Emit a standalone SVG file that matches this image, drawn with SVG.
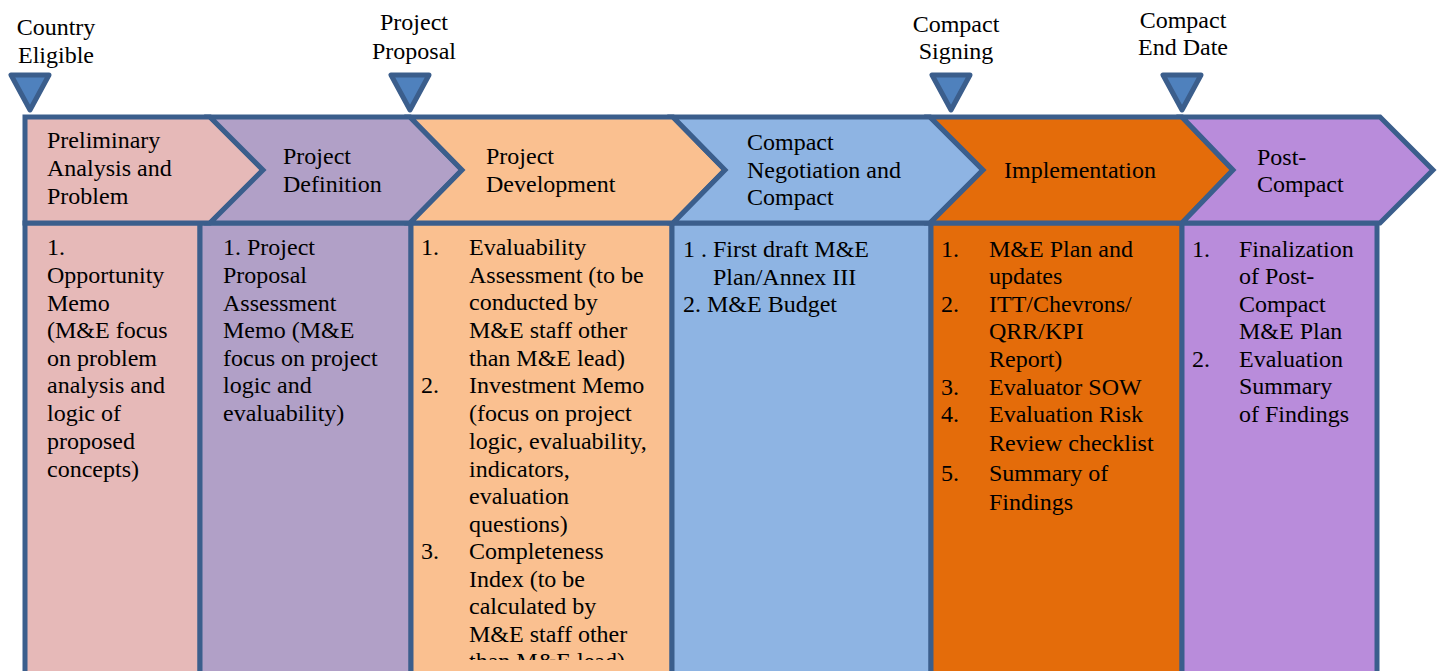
<svg xmlns="http://www.w3.org/2000/svg" width="1441" height="671" viewBox="0 0 1441 671" font-family="'Liberation Serif', Tinos, 'Times New Roman', 'DejaVu Serif', serif">
<style>
text{font-family:"Liberation Serif",Tinos,"Times New Roman","DejaVu Serif",serif;font-size:24px;fill:#000}
.ol{stroke:#3b5e8c;stroke-width:5;stroke-linejoin:miter}
.tri{fill:#4f81bd;stroke:#3b5e8c;stroke-width:5;stroke-linejoin:round}
.mid{text-anchor:middle}
.c1{fill:#e6b9b8}.c2{fill:#b1a0c7}.c3{fill:#fac090}.c4{fill:#8eb4e3}.c5{fill:#e46c0a}.c6{fill:#b98cdb}
</style>
<defs>
<clipPath id="clip3"><rect x="411" y="223" width="261" height="437"/></clipPath>
</defs>
<rect width="1441" height="671" fill="#fff"/>

<g id="milestones">
<g id="m-country">
<polygon class="tri" points="11,75 49,75 30,110"/>
<text class="mid" x="56" y="35">Country</text>
<text class="mid" x="56" y="63">Eligible</text>
</g>
<g id="m-proposal">
<polygon class="tri" points="391,75 429,75 410,110"/>
<text class="mid" x="414" y="30">Project</text>
<text class="mid" x="414" y="59">Proposal</text>
</g>
<g id="m-signing">
<polygon class="tri" points="932,75 970,75 951,110"/>
<text class="mid" x="956" y="32">Compact</text>
<text class="mid" x="956" y="59">Signing</text>
</g>
<g id="m-end">
<polygon class="tri" points="1163,75 1201,75 1182,110"/>
<text class="mid" x="1183" y="28">Compact</text>
<text class="mid" x="1183" y="55">End Date</text>
</g>
</g>

<g id="columns">
<g id="col1">
<rect class="ol c1" x="25" y="223" width="175" height="480"/>
<text x="47" y="255">1.</text>
<text x="47" y="283">Opportunity</text>
<text x="47" y="311">Memo</text>
<text x="47" y="338">(M&amp;E focus</text>
<text x="47" y="366">on problem</text>
<text x="47" y="393">analysis and</text>
<text x="47" y="421">logic of</text>
<text x="47" y="449">proposed</text>
<text x="47" y="477">concepts)</text>
</g>
<g id="col2">
<rect class="ol c2" x="200" y="223" width="211" height="480"/>
<text x="223" y="255">1. Project</text>
<text x="223" y="283">Proposal</text>
<text x="223" y="311">Assessment</text>
<text x="223" y="338">Memo (M&amp;E</text>
<text x="223" y="366">focus on project</text>
<text x="223" y="393">logic and</text>
<text x="223" y="421">evaluability)</text>
</g>
<g id="col3">
<rect class="ol c3" x="411" y="223" width="261" height="480"/>
<g clip-path="url(#clip3)">
<text x="421" y="255">1.</text>
<text x="469" y="255">Evaluability</text>
<text x="469" y="283">Assessment (to be</text>
<text x="469" y="310">conducted by</text>
<text x="469" y="338">M&amp;E staff other</text>
<text x="469" y="366">than M&amp;E lead)</text>
<text x="421" y="393">2.</text>
<text x="469" y="393">Investment Memo</text>
<text x="469" y="421">(focus on project</text>
<text x="469" y="449">logic, evaluability,</text>
<text x="469" y="477">indicators,</text>
<text x="469" y="504">evaluation</text>
<text x="469" y="532">questions)</text>
<text x="421" y="559">3.</text>
<text x="469" y="559">Completeness</text>
<text x="469" y="587">Index (to be</text>
<text x="469" y="614">calculated by</text>
<text x="469" y="642">M&amp;E staff other</text>
<text x="469" y="669">than M&amp;E lead)</text>
</g>
</g>
<g id="col4">
<rect class="ol c4" x="672" y="223" width="259" height="480"/>
<text x="683" y="257">1 . First draft M&amp;E</text>
<text x="713" y="285">Plan/Annex III</text>
<text x="683" y="312">2. M&amp;E Budget</text>
</g>
<g id="col5">
<rect class="ol c5" x="931" y="223" width="251" height="480"/>
<text x="941" y="257">1.</text>
<text x="989" y="257">M&amp;E Plan and</text>
<text x="989" y="284">updates</text>
<text x="941" y="312">2.</text>
<text x="989" y="312">ITT/Chevrons/</text>
<text x="989" y="339">QRR/KPI</text>
<text x="989" y="367">Report)</text>
<text x="941" y="395">3.</text>
<text x="989" y="395">Evaluator SOW</text>
<text x="941" y="422">4.</text>
<text x="989" y="422">Evaluation Risk</text>
<text x="989" y="451">Review checklist</text>
<text x="941" y="481">5.</text>
<text x="989" y="481">Summary of</text>
<text x="989" y="510">Findings</text>
</g>
<g id="col6">
<rect class="ol c6" x="1182" y="223" width="195" height="480"/>
<text x="1192" y="257">1.</text>
<text x="1239" y="257">Finalization</text>
<text x="1239" y="284">of Post-</text>
<text x="1239" y="312">Compact</text>
<text x="1239" y="339">M&amp;E Plan</text>
<text x="1192" y="367">2.</text>
<text x="1239" y="367">Evaluation</text>
<text x="1239" y="394">Summary</text>
<text x="1239" y="422">of Findings</text>
</g>
</g>

<g id="chevrons">
<g id="ch1">
<polygon class="ol c1" points="25,117 210,117 263,170 210,223 25,223"/>
<text x="47" y="148">Preliminary</text>
<text x="47" y="176">Analysis and</text>
<text x="47" y="204">Problem</text>
</g>
<g id="ch2">
<polygon class="ol c2" points="210,117 410,117 462,170 410,223 210,223 263,170"/>
<text x="283" y="164">Project</text>
<text x="283" y="192">Definition</text>
</g>
<g id="ch3">
<polygon class="ol c3" points="410,117 673,117 725,170 673,223 410,223 462,170"/>
<text x="486" y="164">Project</text>
<text x="486" y="192">Development</text>
</g>
<g id="ch4">
<polygon class="ol c4" points="673,117 930,117 983,170 930,223 673,223 725,170"/>
<text x="747" y="150">Compact</text>
<text x="747" y="178">Negotiation and</text>
<text x="747" y="205">Compact</text>
</g>
<g id="ch5">
<polygon class="ol c5" points="930,117 1182,117 1233,170 1182,223 930,223 983,170"/>
<text x="1004" y="178">Implementation</text>
</g>
<g id="ch6">
<polygon class="ol c6" points="1182,117 1380,117 1433,170 1380,223 1182,223 1233,170"/>
<text x="1257" y="165">Post-</text>
<text x="1257" y="192">Compact</text>
</g>
</g>
</svg>
